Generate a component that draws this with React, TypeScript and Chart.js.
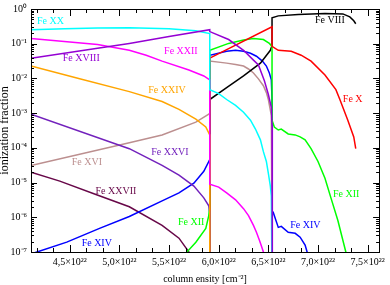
import React, { useEffect, useRef } from "react";
import { Chart, registerables } from "chart.js";

Chart.register(...registerables);

const FONT = "'Liberation Serif', 'Times New Roman', Times, serif";

// column density in units of 1e22 cm^-2
const xTickValues = [4.5, 5.0, 5.5, 6.0, 6.5, 7.0, 7.5];
const xTickLabels = ["4,5×10²²", "5,0×10²²", "5,5×10²²", "6,0×10²²", "6,5×10²²", "7,0×10²²", "7,5×10²²"];
const yTickValues = [1e-7, 1e-6, 1e-5, 1e-4, 1e-3, 1e-2, 1e-1, 1];
const yTickLabels = ["10⁻⁷", "10⁻⁶", "10⁻⁵", "10⁻⁴", "10⁻³", "10⁻²", "10⁻¹", "10⁰"];

// Fe XX (cyan)
const feXX_x = [4.11, 4.45, 4.78, 5.10, 5.50, 5.77, 5.91, 5.91, 6.00, 6.08, 6.17, 6.25, 6.32, 6.37, 6.42, 6.45, 6.48, 6.50, 6.52, 6.53, 6.54];
const feXX_y = [0.254, 0.27, 0.284, 0.290, 0.271, 0.238, 0.196, 0.00475, 0.00366, 0.00247, 0.00167, 0.00106, 6.28e-4, 3.49e-4, 1.70e-4, 7.78e-5, 4.05e-5, 1.85e-5, 7.93e-6, 4.13e-6, 1e-9];
// Fe XXII (magenta)
const feXXII_x = [4.11, 4.78, 5.10, 5.27, 5.43, 5.70, 5.85, 5.91, 5.91, 6.00, 6.08, 6.17, 6.25, 6.30, 6.35, 6.38, 6.41, 6.43, 6.45, 6.47];
const feXXII_y = [0.141, 0.0955, 0.0646, 0.0466, 0.0315, 0.0175, 0.0118, 0.00912, 9.04e-6, 7.43e-6, 5.02e-6, 3.18e-6, 1.77e-6, 1.12e-6, 5.83e-7, 3.69e-7, 2.19e-7, 1.48e-7, 1.0e-7, 1e-8];
// Fe XVIII (violet)
const feXVIII_x = [4.11, 4.78, 5.10, 5.50, 5.91, 5.91, 6.10, 6.25, 6.35, 6.40, 6.46, 6.50, 6.53, 6.537, 6.54];
const feXVIII_y = [0.0383, 0.0736, 0.102, 0.161, 0.254, 0.223, 0.132, 0.0646, 0.0336, 0.0243, 0.00853, 0.00343, 0.00147, 3.98e-4, 1e-9];
// Fe XXIV (orange)
const feXXIV_x = [4.11, 4.60, 5.10, 5.43, 5.60, 5.77, 5.87, 5.91, 5.91];
const feXXIV_y = [0.0227, 0.00973, 0.00417, 0.00217, 0.00129, 6.70e-4, 3.98e-4, 2.36e-4, 1e-9];
// Fe XXVI (indigo)
const feXXVI_x = [4.11, 5.10, 5.43, 5.60, 5.75, 5.85, 5.90, 5.91, 5.91];
const feXXVI_y = [9.29e-4, 9.46e-5, 3.12e-5, 1.63e-5, 7.93e-6, 3.62e-6, 2.15e-6, 1.36e-6, 1e-9];
// Fe XVI (brown)
const feXVI_x = [4.11, 5.10, 5.43, 5.77, 5.90, 5.91, 5.91, 6.08, 6.17, 6.25, 6.30, 6.35, 6.40, 6.45, 6.48, 6.50, 6.53, 6.54];
const feXVI_y = [3.12e-5, 1.40e-4, 2.36e-4, 5.51e-4, 9.29e-4, 1.0e-3, 0.0315, 0.0276, 0.0251, 0.0227, 0.0187, 0.0144, 0.00973, 0.00616, 0.0039, 0.00247, 8.7e-4, 1e-9];
// Fe XXVII (maroon)
const feXXVII_x = [4.11, 4.40, 4.75, 5.10, 5.43, 5.60, 5.70, 5.75];
const feXXVII_y = [1.98e-5, 1.10e-5, 4.71e-6, 2.01e-6, 5.83e-7, 2.50e-7, 1.0e-7, 1e-8];
// Fe XIV (blue)
const feXIV_x = [4.11, 4.17, 4.47, 4.80, 5.10, 5.43, 5.60, 5.75, 5.85, 5.91, 5.91, 6.08, 6.17, 6.25, 6.32, 6.38, 6.44, 6.48, 6.51, 6.53, 6.537, 6.537, 6.55, 6.60, 6.63, 6.70, 6.77, 6.82, 6.87, 6.89, 6.90];
const feXIV_y = [8.8e-8, 1e-7, 1.92e-7, 4.80e-7, 1.05e-6, 2.98e-6, 5.02e-6, 9.64e-6, 2.11e-5, 4.62e-5, 0.0466, 0.0605, 0.0646, 0.0605, 0.0531, 0.0436, 0.0315, 0.0227, 0.0144, 0.00912, 0.00247, 1.55e-6, 1.36e-6, 5.12e-7, 5.46e-7, 3.69e-7, 3.46e-7, 2.67e-7, 1.58e-7, 1.0e-7, 5e-8];
// Fe XII (green)
const feXII_x = [5.67, 5.68, 5.77, 5.87, 5.90, 5.91, 5.91, 6.10, 6.25, 6.35, 6.45, 6.51, 6.537, 6.537, 6.56, 6.60, 6.63, 6.70, 6.77, 6.82, 6.87, 6.93, 7.00, 7.07, 7.13, 7.20, 7.28, 7.29];
const feXII_y = [5e-8, 1e-7, 1.92e-7, 4.80e-7, 1.12e-6, 2.15e-6, 0.0646, 0.102, 0.128, 0.141, 0.132, 0.102, 0.0838, 6.28e-4, 3.98e-4, 3.27e-4, 3.49e-4, 2.52e-4, 2.36e-4, 2.07e-4, 1.70e-4, 9.46e-5, 4.05e-5, 1.34e-5, 3.62e-6, 8.08e-7, 1e-7, 5e-8];
// Fe X (red)
const feX_x = [5.91, 5.91, 6.537, 6.537, 6.60, 6.73, 6.83, 6.93, 7.07, 7.18, 7.22, 7.30, 7.36, 7.38];
const feX_y = [1e-9, 0.0383, 0.309, 0.0838, 0.0646, 0.0605, 0.0466, 0.0315, 0.0126, 0.00475, 0.00247, 6.28e-4, 2.07e-4, 9.46e-5];
// Fe VIII (black)
const feVIII_x = [5.91, 5.91, 6.08, 6.25, 6.42, 6.52, 6.537, 6.537, 6.60, 6.80, 7.07, 7.25, 7.32, 7.36, 7.38];
const feVIII_y = [1e-9, 0.00247, 0.00541, 0.0118, 0.0276, 0.0646, 0.0895, 0.556, 0.634, 0.699, 0.745, 0.722, 0.593, 0.457, 0.376];

// curve labels (left edge x, vertical centre y, in data units)
const labelTexts = ["Fe XX", "Fe XVIII", "Fe XXII", "Fe XXIV", "Fe VIII", "Fe X", "Fe XVI", "Fe XXVI", "Fe XXVII", "Fe XII", "Fe XII", "Fe XIV", "Fe XIV"];
const labelX = [4.17, 4.43, 5.45, 5.29, 6.97, 7.25, 4.52, 5.32, 4.76, 7.15, 5.59, 4.62, 6.72];
const labelY = [0.43, 0.038, 0.060, 0.0044, 0.457, 0.00247, 3.8e-5, 7.3e-5, 5.7e-6, 4.7e-6, 7.1e-7, 1.8e-7, 5.8e-7];
const labelColors = ["#00ffff", "#9400d3", "#ff00ff", "#ffa500", "#000000", "#ff0000", "#bc8f8f", "#7221bc", "#670748", "#00ff00", "#00ff00", "#0000ff", "#0000ff"];

// drawing order: first listed is drawn on top
const seriesList = [
  { name: "Fe XVIII", color: "#9400d3", x: feXVIII_x, y: feXVIII_y },
  { name: "Fe XX", color: "#00ffff", x: feXX_x, y: feXX_y },
  { name: "Fe XXII", color: "#ff00ff", x: feXXII_x, y: feXXII_y },
  { name: "Fe XXIV", color: "#ffa500", x: feXXIV_x, y: feXXIV_y },
  { name: "Fe XXVI", color: "#7221bc", x: feXXVI_x, y: feXXVI_y },
  { name: "Fe X", color: "#ff0000", x: feX_x, y: feX_y },
  { name: "Fe XII", color: "#00ff00", x: feXII_x, y: feXII_y },
  { name: "Fe VIII", color: "#000000", x: feVIII_x, y: feVIII_y },
  { name: "Fe XVI", color: "#bc8f8f", x: feXVI_x, y: feXVI_y },
  { name: "Fe XIV", color: "#0000ff", x: feXIV_x, y: feXIV_y },
  { name: "Fe XXVII", color: "#670748", x: feXXVII_x, y: feXXVII_y },
];

const frameAndLabels = {
  id: "frameAndLabels",
  afterDatasetsDraw(chart: any) {
    const { ctx, chartArea: a } = chart;
    const xs = chart.scales.x;
    const ys = chart.scales.y;
    ctx.save();
    ctx.strokeStyle = "#000";
    ctx.lineWidth = 1;
    ctx.beginPath();
    const step = (xTickValues[1] - xTickValues[0]) / 3;
    for (let i = -6; i <= 24; i++) {
      const v = xTickValues[0] + i * step;
      if (v < xs.min - 1e-9 || v > xs.max + 1e-9) continue;
      const px = Math.round(xs.getPixelForValue(v)) + 0.5;
      const len = i % 3 === 0 ? 7 : 4;
      ctx.moveTo(px, a.bottom);
      ctx.lineTo(px, a.bottom - len);
      ctx.moveTo(px, a.top);
      ctx.lineTo(px, a.top + len);
    }
    for (let e = -7; e <= 0; e++) {
      for (let m = 1; m <= 9; m++) {
        const v = m * Math.pow(10, e);
        if (v > ys.max * 1.0001) break;
        const py = Math.round(ys.getPixelForValue(v)) + 0.5;
        const len = m === 1 ? 6 : 3;
        ctx.moveTo(a.left, py);
        ctx.lineTo(a.left + len, py);
        ctx.moveTo(a.right, py);
        ctx.lineTo(a.right - len, py);
      }
    }
    ctx.stroke();
    ctx.strokeRect(Math.round(a.left) + 0.5, Math.round(a.top) + 0.5, Math.round(a.right - a.left), Math.round(a.bottom - a.top));

    ctx.font = `10px ${FONT}`;
    ctx.textAlign = "left";
    ctx.textBaseline = "middle";
    labelTexts.forEach((t, i) => {
      ctx.fillStyle = labelColors[i];
      ctx.fillText(t, xs.getPixelForValue(labelX[i]), ys.getPixelForValue(labelY[i]));
    });
    ctx.restore();
  },
};

export default function App() {
  const ref = useRef<HTMLCanvasElement>(null);
  useEffect(() => {
    const canvas = ref.current;
    if (!canvas) return;
    const chart = new Chart(canvas, {
      type: "line",
      data: {
        datasets: seriesList.map((s) => ({
          label: s.name,
          data: s.x.map((x, i) => ({ x, y: s.y[i] })),
          borderColor: s.color,
          backgroundColor: s.color,
          borderWidth: 1.5,
          pointRadius: 0,
          tension: 0,
          fill: false,
        })),
      },
      options: {
        animation: false,
        responsive: false,
        devicePixelRatio: 1,
        events: [],
        layout: { padding: { left: 0, right: 8, top: 5, bottom: 0 } },
        plugins: { legend: { display: false }, tooltip: { enabled: false } },
        scales: {
          x: {
            type: "linear",
            position: "bottom",
            min: 4.11,
            max: 7.615,
            afterBuildTicks: (s: any) => {
              s.ticks = xTickValues.map((v) => ({ value: v }));
            },
            afterFit: (s: any) => {
              s.height = 33;
            },
            ticks: {
              autoSkip: false,
              maxRotation: 0,
              padding: 5,
              color: "#000",
              font: { family: FONT, size: 10, lineHeight: 1 },
              callback: (v: any, i: number) => xTickLabels[i],
            },
            grid: { display: false, drawTicks: false },
            border: { display: false },
            title: {
              display: true,
              text: "column ensity [cm⁻²]",
              color: "#000",
              font: { family: FONT, size: 10 },
              padding: { top: 0, bottom: 0 },
            },
          },
          y: {
            type: "logarithmic",
            position: "left",
            min: 1e-7,
            max: 1,
            afterBuildTicks: (s: any) => {
              s.ticks = yTickValues.map((v) => ({ value: v }));
            },
            afterFit: (s: any) => {
              s.width = 31;
            },
            ticks: {
              autoSkip: false,
              padding: 4,
              color: "#000",
              font: { family: FONT, size: 10, lineHeight: 1 },
              callback: (v: any, i: number) => yTickLabels[i],
            },
            grid: { display: false, drawTicks: false },
            border: { display: false },
            title: {
              display: true,
              text: "ionization fraction",
              color: "#000",
              font: { family: FONT, size: 12, lineHeight: 0.8 },
              padding: { top: 0, bottom: 0 },
            },
          },
        },
      },
      plugins: [frameAndLabels],
    } as any);
    return () => chart.destroy();
  }, []);
  return (
    <div style={{ position: "fixed", left: 0, top: 0, width: 390, height: 285, background: "#fff" }}>
      <canvas ref={ref} width={390} height={285} style={{ display: "block", width: 390, height: 285 }} />
    </div>
  );
}
